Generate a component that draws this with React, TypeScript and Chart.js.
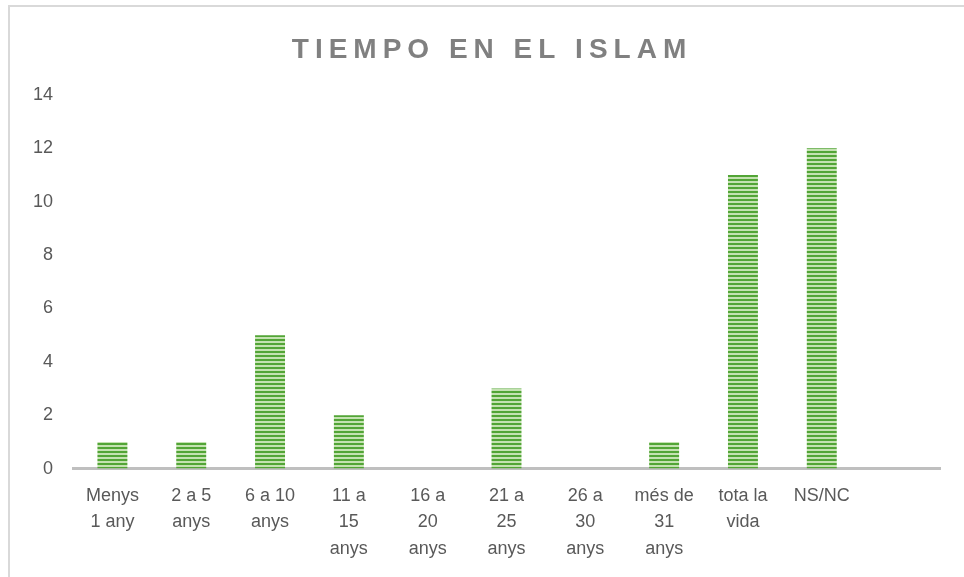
import React, { useEffect, useRef } from "react";
import { Chart, registerables } from "chart.js";

Chart.register(...registerables);

const chartTitle = "TIEMPO EN EL ISLAM";
const categories: (string | string[])[] = [
  ["Menys", "1 any"],
  ["2 a 5", "anys"],
  ["6 a 10", "anys"],
  ["11 a", "15", "anys"],
  ["16 a", "20", "anys"],
  ["21 a", "25", "anys"],
  ["26 a", "30", "anys"],
  ["més de", "31", "anys"],
  ["tota la", "vida"],
  "NS/NC",
  "",
];
const values: (number | null)[] = [1, 1, 5, 2, 0, 3, 0, 1, 11, 12, null];
const yMin = 0;
const yMax = 14;
const yStep = 2;

const FONT = "'Liberation Sans', Arial, Helvetica, sans-serif";

export default function App() {
  const ref = useRef<HTMLCanvasElement | null>(null);

  useEffect(() => {
    const canvas = ref.current;
    if (!canvas) return;
    const ctx = canvas.getContext("2d");
    if (!ctx) return;

    const pc = document.createElement("canvas");
    pc.width = 4;
    pc.height = 4;
    const p = pc.getContext("2d")!;
    p.fillStyle = "#c4e2b1";
    p.fillRect(0, 0, 4, 4);
    p.fillStyle = "#52a536";
    p.fillRect(0, 0, 4, 2);
    const pattern = ctx.createPattern(pc, "repeat")!;

    const titlePlugin = {
      id: "customTitle",
      afterDraw(chart: any) {
        const c = chart.ctx as CanvasRenderingContext2D;
        c.save();
        c.font = `bold 28px ${FONT}`;
        (c as any).letterSpacing = "6px";
        c.fillStyle = "#808080";
        c.textAlign = "center";
        c.textBaseline = "middle";
        c.fillText(chartTitle, 482, 43);
        c.restore();
      },
    };

    const chart = new Chart(ctx, {
      type: "bar",
      data: {
        labels: categories,
        datasets: [
          {
            data: values,
            backgroundColor: pattern,
            borderWidth: 0,
            barPercentage: 0.38,
            categoryPercentage: 1,
          },
        ],
      },
      plugins: [titlePlugin],
      options: {
        responsive: false,
        animation: false,
        devicePixelRatio: 1,
        layout: { padding: { top: 88, left: 23, right: 30, bottom: 1 } },
        plugins: {
          legend: { display: false },
          title: { display: false },
          tooltip: { enabled: false },
        },
        scales: {
          x: {
            grid: { display: false, drawTicks: false, tickLength: 0 },
            border: { display: true, color: "#bfbfbf", width: 3 },
            ticks: {
              color: "#595959",
              font: { family: FONT, size: 18, lineHeight: 1.47 },
              padding: 14,
              maxRotation: 0,
              minRotation: 0,
              autoSkip: false,
            },
          },
          y: {
            min: yMin,
            max: yMax,
            grid: { display: false, drawTicks: false, tickLength: 0 },
            border: { display: false },
            ticks: {
              stepSize: yStep,
              color: "#595959",
              font: { family: FONT, size: 18 },
              padding: 20,
            },
            afterFit(scale: any) {
              scale.width = 40;
            },
          },
        },
      },
    });

    return () => chart.destroy();
  }, []);

  return (
    <div
      style={{
        position: "fixed",
        left: 8,
        top: 5,
        width: 1000,
        height: 620,
        border: "2px solid #d9d9d9",
        boxSizing: "border-box",
        background: "#fff",
      }}
    >
      <canvas
        ref={ref}
        width={960}
        height={570}
        style={{ position: "absolute", left: 0, top: 0, width: 960, height: 570 }}
      />
    </div>
  );
}
